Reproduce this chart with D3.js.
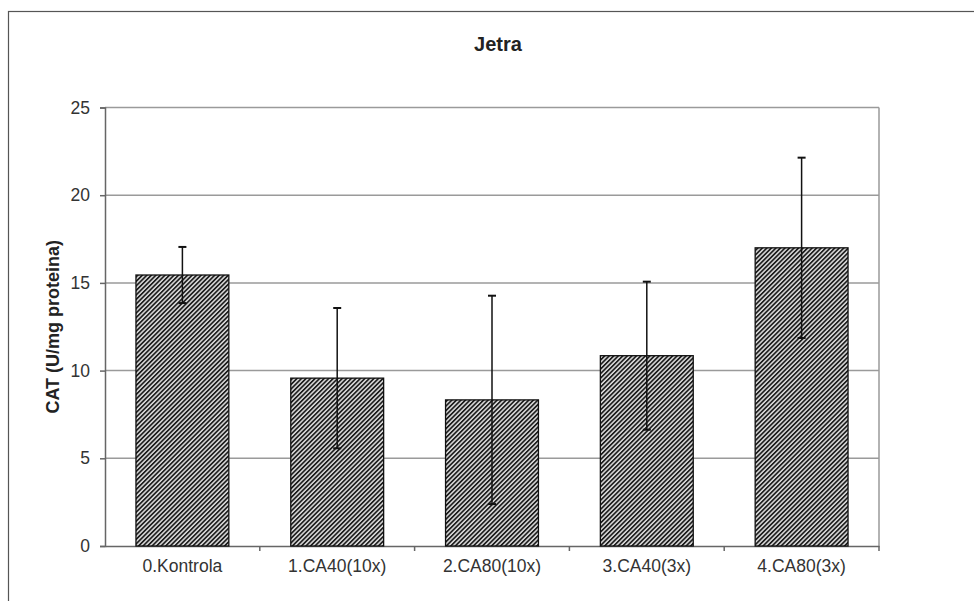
<!DOCTYPE html>
<html>
<head>
<meta charset="utf-8">
<script src="https://cdn.jsdelivr.net/npm/d3@7"></script>
<style>
    body { margin: 0; background: #fff; }
    svg { display: block; }
</style>
</head>
<body>
<script>
const categories = ["0.Kontrola", "1.CA40(10x)", "2.CA80(10x)", "3.CA40(3x)", "4.CA80(3x)"];
const means = [15.45, 9.57, 8.33, 10.85, 17.0];
const errors = [1.6, 4.0, 5.94, 4.22, 5.14];
const yTicks = [0, 5, 10, 15, 20, 25];

const width = 974;
const height = 601;
const margin = { left: 105, right: 95, top: 107.5, bottom: 55 };
const font = "'Liberation Sans', Arial, sans-serif";

const svg = d3.select("body").append("svg")
    .attr("width", width)
    .attr("height", height)
    .style("font-family", font);

// hatch fill
const defs = svg.append("defs");
const pat = defs.append("pattern")
    .attr("id", "hatch")
    .attr("patternUnits", "userSpaceOnUse")
    .attr("width", 3.2)
    .attr("height", 3.2)
    .attr("patternTransform", "rotate(45)");
pat.append("rect").attr("width", 3.2).attr("height", 3.2).attr("fill", "#dcdcdc");
pat.append("rect").attr("width", 1.7).attr("height", 3.2).attr("fill", "#1e1e1e");

// outer frame
svg.append("rect")
    .attr("x", 8.5).attr("y", 11.5)
    .attr("width", width).attr("height", height)
    .attr("fill", "none")
    .attr("stroke", "#555")
    .attr("stroke-width", 1.2);

const x = d3.scaleBand()
    .domain(categories)
    .range([margin.left, width - margin.right]);

const y = d3.scaleLinear()
    .domain([0, 25])
    .range([height - margin.bottom, margin.top]);

// gridlines
svg.append("g")
    .selectAll("line")
    .data(yTicks.slice(1))
    .join("line")
    .attr("x1", margin.left)
    .attr("x2", width - margin.right)
    .attr("y1", d => y(d))
    .attr("y2", d => y(d))
    .attr("stroke", "#9a9a9a")
    .attr("stroke-width", 1.5);

// right edge of plot area
svg.append("line")
    .attr("x1", width - margin.right).attr("x2", width - margin.right)
    .attr("y1", y(25)).attr("y2", y(0))
    .attr("stroke", "#9a9a9a")
    .attr("stroke-width", 1.5);

// y axis
const yAxis = svg.append("g")
    .attr("transform", `translate(${margin.left},0)`)
    .call(d3.axisLeft(y).tickValues(yTicks).tickSize(5).tickPadding(10));
yAxis.select(".domain").attr("stroke", "#666").attr("stroke-width", 1.5);
yAxis.selectAll(".tick line").attr("stroke", "#666").attr("stroke-width", 1.5);
yAxis.selectAll("text")
    .attr("fill", "#333")
    .attr("font-size", 17.5)
    .attr("font-family", font);

// x axis
const xAxis = svg.append("g")
    .attr("transform", `translate(0,${y(0)})`)
    .call(d3.axisBottom(x).tickSize(0).tickPadding(14));
xAxis.select(".domain").attr("stroke", "#666").attr("stroke-width", 1.5);
xAxis.selectAll("text")
    .attr("fill", "#333")
    .attr("font-size", 17.5)
    .attr("font-family", font);

// category separators
svg.append("g")
    .selectAll("line")
    .data(categories.slice(1).concat([null]))
    .join("line")
    .attr("x1", d => d ? x(d) : width - margin.right)
    .attr("x2", d => d ? x(d) : width - margin.right)
    .attr("y1", y(0))
    .attr("y2", y(0) + 5)
    .attr("stroke", "#666")
    .attr("stroke-width", 1.5);

// bars
const barW = x.bandwidth() * 0.6;
svg.append("g")
    .selectAll("rect")
    .data(categories)
    .join("rect")
    .attr("x", d => x(d) + (x.bandwidth() - barW) / 2)
    .attr("y", (d, i) => y(means[i]))
    .attr("width", barW)
    .attr("height", (d, i) => y(0) - y(means[i]))
    .attr("fill", "url(#hatch)")
    .attr("stroke", "#111")
    .attr("stroke-width", 1.3);

// error bars
const eb = svg.append("g")
    .attr("stroke", "#111")
    .attr("stroke-width", 1.5);
categories.forEach((c, i) => {
    const cx = x(c) + x.bandwidth() / 2;
    const hi = y(means[i] + errors[i]);
    const lo = y(means[i] - errors[i]);
    eb.append("line").attr("x1", cx).attr("x2", cx).attr("y1", hi).attr("y2", lo);
    eb.append("line").attr("x1", cx - 4).attr("x2", cx + 4).attr("y1", hi).attr("y2", hi).attr("stroke-width", 2);
    eb.append("line").attr("x1", cx - 4).attr("x2", cx + 4).attr("y1", lo).attr("y2", lo).attr("stroke-width", 2);
});

// title
svg.append("text")
    .attr("x", 498)
    .attr("y", 51)
    .attr("text-anchor", "middle")
    .attr("font-weight", "bold")
    .attr("font-size", 20)
    .attr("fill", "#222")
    .text("Jetra");

// y label
svg.append("text")
    .attr("transform", `translate(59,${(y(0) + y(25)) / 2}) rotate(-90)`)
    .attr("text-anchor", "middle")
    .attr("font-weight", "bold")
    .attr("font-size", 18)
    .attr("fill", "#222")
    .text("CAT (U/mg proteina)");
</script>
</body>
</html>
